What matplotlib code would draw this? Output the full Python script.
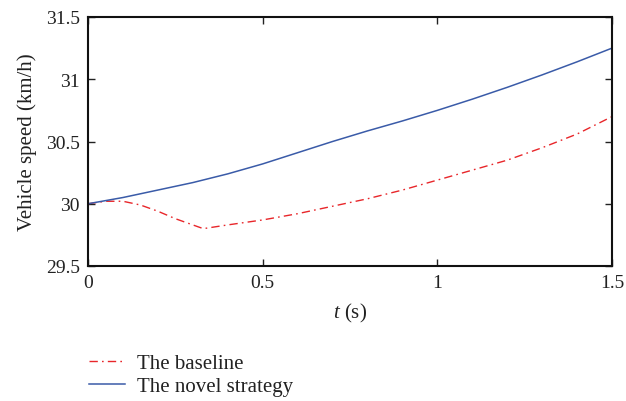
import matplotlib
matplotlib.use("Agg")
import matplotlib.pyplot as plt

t_novel = [0.0, 0.1, 0.2, 0.3, 0.4, 0.5, 0.6, 0.7, 0.8, 0.9, 1.0, 1.1, 1.2, 1.3, 1.4, 1.5]
v_novel = [30.0, 30.05, 30.11, 30.17, 30.24, 30.32, 30.41, 30.50, 30.585, 30.665, 30.75,
           30.84, 30.935, 31.035, 31.14, 31.25]

t_base = [0.0, 0.05, 0.1, 0.15, 0.2, 0.25, 0.33, 0.4, 0.5, 0.6, 0.7, 0.8, 0.9, 1.0,
          1.1, 1.2, 1.3, 1.4, 1.5]
v_base = [30.0, 30.02, 30.02, 29.99, 29.94, 29.88, 29.80, 29.83, 29.87, 29.92, 29.98,
          30.04, 30.11, 30.19, 30.27, 30.35, 30.45, 30.56, 30.70]

x_ticks = [0, 0.5, 1, 1.5]
x_ticklabels = ["0", "0.5", "1", "1.5"]
y_ticks = [29.5, 30, 30.5, 31, 31.5]
y_ticklabels = ["29.5", "30", "30.5", "31", "31.5"]

plt.rcParams['font.family'] = ['Liberation Serif', 'DejaVu Serif']
plt.rcParams['mathtext.fontset'] = 'custom'
plt.rcParams['mathtext.it'] = 'Liberation Serif:italic'
plt.rcParams['mathtext.rm'] = 'Liberation Serif'

fig = plt.figure(figsize=(6.26, 4.02), dpi=100)
ax = fig.add_axes([88/626, 1 - 267/402, (612-88)/626, (267-18)/402])

l1, = ax.plot(t_base, v_base, color='#e8262a', linestyle='-.', linewidth=1.0,
              dashes=(6, 3, 1.2, 3), label='The baseline')
l2, = ax.plot(t_novel, v_novel, color='#3a5ba8', linestyle='-', linewidth=1.1,
              label='The novel strategy')

ax.set_xlim(0, 1.5)
ax.set_ylim(29.5, 31.5)
ax.set_xticks(x_ticks)
ax.set_xticklabels(x_ticklabels)
ax.set_yticks(y_ticks)
ax.set_yticklabels(y_ticklabels)
ax.tick_params(direction='in', top=True, right=True, length=5, width=1,
               labelsize=14, colors='#222222', pad=6)
for s in ax.spines.values():
    s.set_linewidth(1.5)
    s.set_color('#111111')

ax.set_ylabel('Vehicle speed (km/h)', fontsize=15, color='#222222', labelpad=6)
ax.set_xlabel(r'$t$ (s)', fontsize=15, color='#222222', labelpad=7)

fig.legend(handles=[l1, l2], loc='upper left', bbox_to_anchor=(70/626, 1 - 336/402),
           frameon=False, fontsize=15, handlelength=1.75, labelspacing=0.15,
           handletextpad=0.55, labelcolor='#222222')

fig.savefig('out.png', dpi=100)
